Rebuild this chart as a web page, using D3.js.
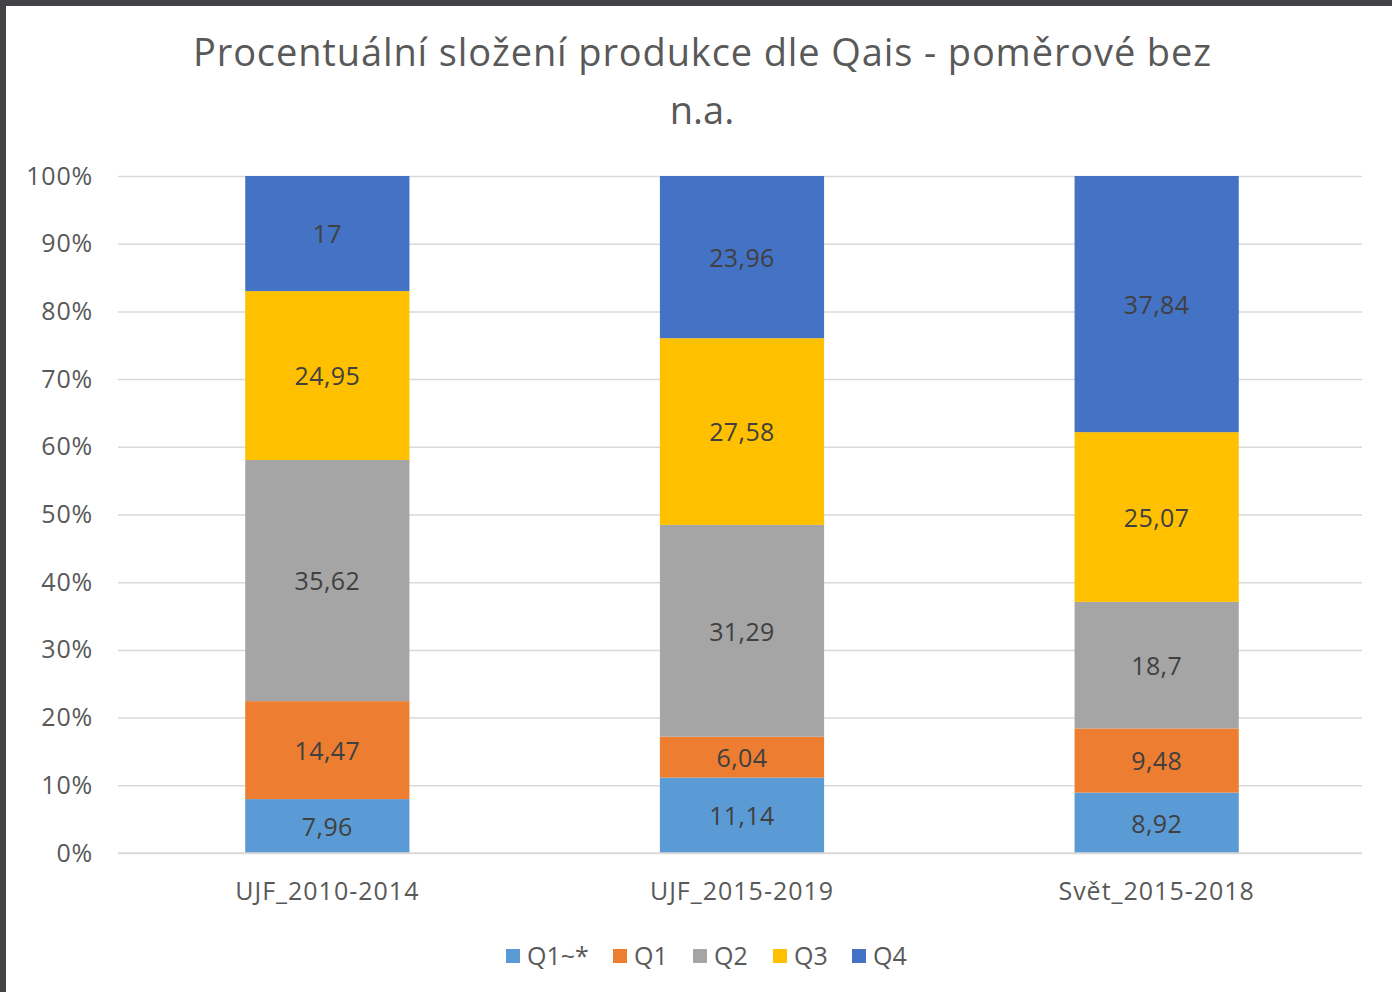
<!DOCTYPE html>
<html>
<head>
<meta charset="utf-8">
<script src="https://cdn.jsdelivr.net/npm/d3@7"></script>
<style>
  html, body { margin: 0; padding: 0; background: #fff; }
  body { width: 1392px; height: 992px; overflow: hidden; }
  svg { display: block; font-family: "Segoe UI", "Open Sans", sans-serif; }
</style>
</head>
<body>
<svg id="chart" width="1392" height="992"></svg>
<script>
// Share of production by Qais quartile (percent), per period
const categories = ["UJF_2010-2014", "UJF_2015-2019", "Svět_2015-2018"];
const seriesNames = ["Q1~*", "Q1", "Q2", "Q3", "Q4"];
const q1star = [7.96, 11.14, 8.92];
const q1 = [14.47, 6.04, 9.48];
const q2 = [35.62, 31.29, 18.7];
const q3 = [24.95, 27.58, 25.07];
const q4 = [17, 23.96, 37.84];
const tickLabels = ["0%", "10%", "20%", "30%", "40%", "50%", "60%", "70%", "80%", "90%", "100%"];
const titleLines = ["Procentuální složení produkce dle Qais - poměrové bez", "n.a."];

const colors = ["#5B9BD5", "#ED7D31", "#A5A5A5", "#FFC000", "#4472C4"];
const seriesValues = [q1star, q1, q2, q3, q4];

const rows = categories.map((c, i) => {
  const r = { category: c };
  seriesNames.forEach((s, j) => { r[s] = seriesValues[j][i]; });
  return r;
});

const FONT = "\"Segoe UI\", \"Open Sans\", sans-serif";
const svg = d3.select("#chart");

// Frame edges
svg.append("rect").attr("x", 0).attr("y", 0).attr("width", 1392).attr("height", 992).attr("fill", "#fff");
svg.append("rect").attr("x", 0).attr("y", 0).attr("width", 1392).attr("height", 6).attr("fill", "#434247");
svg.append("rect").attr("x", 0).attr("y", 0).attr("width", 6).attr("height", 992).attr("fill", "#434247");

const plot = { left: 118, right: 1362, top: 176, bottom: 853 };

const x = d3.scaleBand()
  .domain(categories)
  .range([plot.left + 2, plot.right + 2])
  .paddingInner(0.604)
  .paddingOuter(0.302);

const y = d3.scaleLinear().domain([0, 1]).range([plot.bottom, plot.top]);

// Title
const title = svg.append("g").selectAll("text")
  .data(titleLines)
  .join("text")
  .attr("x", 702)
  .attr("y", (d, i) => 66 + i * 58)
  .attr("text-anchor", "middle")
  .attr("font-size", 38)
  .attr("fill", "#595959")
  .text(d => d);
title.filter((d, i) => i === 0)
  .attr("textLength", 1018)
  .attr("lengthAdjust", "spacing");

// Gridlines and tick labels
const yAxis = d3.axisLeft(y)
  .tickValues(d3.range(0, 1.0001, 0.1))
  .tickFormat((d, i) => tickLabels[i])
  .tickSize(-(plot.right - plot.left))
  .tickPadding(25);

const gy = svg.append("g")
  .attr("transform", `translate(${plot.left},0)`)
  .call(yAxis);
gy.select(".domain").remove();
gy.selectAll(".tick line").attr("stroke", "#d9d9d9").attr("stroke-width", 1.5);
gy.selectAll(".tick text")
  .attr("font-size", 25)
  .attr("letter-spacing", "0.8px")
  .attr("fill", "#595959")
  .attr("font-family", FONT);

// Stacked bars, normalised to 100 %
const stack = d3.stack().keys(seriesNames).offset(d3.stackOffsetExpand);
const layers = stack(rows);

const layerG = svg.append("g").selectAll("g")
  .data(layers)
  .join("g")
  .attr("fill", (d, i) => colors[i]);

layerG.selectAll("rect")
  .data(d => d)
  .join("rect")
  .attr("x", d => x(d.data.category))
  .attr("width", x.bandwidth())
  .attr("y", d => y(d[1]))
  .attr("height", d => y(d[0]) - y(d[1]));

// Value labels
const labelG = svg.append("g");
layers.forEach(layer => {
  labelG.selectAll(null)
    .data(layer)
    .join("text")
    .attr("x", d => x(d.data.category) + x.bandwidth() / 2)
    .attr("y", d => (y(d[0]) + y(d[1])) / 2 + 1)
    .attr("dy", "0.35em")
    .attr("text-anchor", "middle")
    .attr("font-size", 25)
    .attr("letter-spacing", "0.4px")
    .attr("fill", "#404040")
    .text(d => String(d.data[layer.key]).replace(".", ","));
});

// Category axis labels
const xAxis = d3.axisBottom(x).tickSize(0).tickPadding(29);
const gx = svg.append("g")
  .attr("transform", `translate(0,${plot.bottom})`)
  .call(xAxis);
gx.select(".domain").remove();
svg.append("line")
  .attr("x1", plot.left).attr("x2", plot.right)
  .attr("y1", plot.bottom).attr("y2", plot.bottom)
  .attr("stroke", "#d9d9d9").attr("stroke-width", 1.5);
gx.selectAll(".tick text")
  .attr("font-size", 25)
  .attr("letter-spacing", "1px")
  .attr("fill", "#595959")
  .attr("font-family", FONT);

// Legend
const legendX = [506, 613, 693, 773, 852];
const legend = svg.append("g").selectAll("g")
  .data(seriesNames)
  .join("g")
  .attr("transform", (d, i) => `translate(${legendX[i]},956)`);
legend.append("rect")
  .attr("x", 0).attr("y", -7)
  .attr("width", 14).attr("height", 14)
  .attr("fill", (d, i) => colors[i]);
legend.append("text")
  .attr("x", 21)
  .attr("dy", "0.35em")
  .attr("font-size", 25)
  .attr("fill", "#595959")
  .text(d => d);
</script>
</body>
</html>
